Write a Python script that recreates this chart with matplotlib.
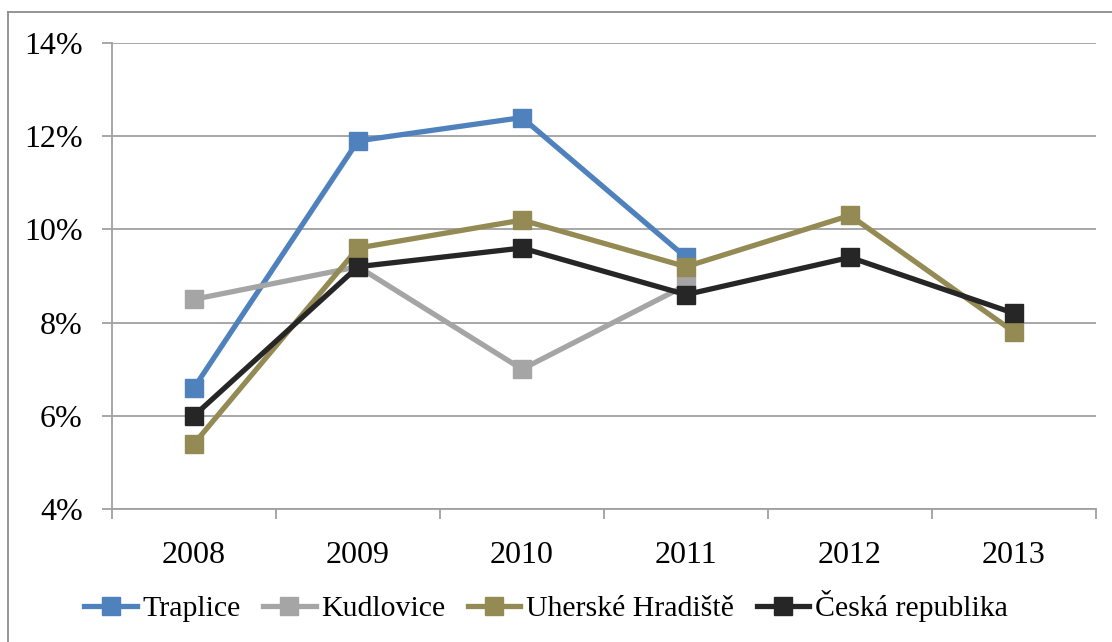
import numpy as np
import matplotlib
matplotlib.use("Agg")
import matplotlib.pyplot as plt
from matplotlib.lines import Line2D
from matplotlib.ticker import FuncFormatter

plt.rcParams['font.family'] = ['Liberation Serif', 'DejaVu Serif']

years = ['2008', '2009', '2010', '2011', '2012', '2013']
traplice = [6.6, 11.9, 12.4, 9.4, np.nan, np.nan]
kudlovice = [8.5, 9.2, 7.0, 8.8, np.nan, np.nan]
uherske = [5.4, 9.6, 10.2, 9.2, 10.3, 7.8]
ceska = [6.0, 9.2, 9.6, 8.6, 9.4, 8.2]

series = [
    ('Traplice', traplice, '#4F81BD'),
    ('Kudlovice', kudlovice, '#A5A5A5'),
    ('Uherské Hradiště', uherske, '#948A54'),
    ('Česká republika', ceska, '#262626'),
]

fig = plt.figure(figsize=(11.12, 6.42), dpi=100)
ax = fig.add_axes([112 / 1112, 1 - 509 / 642, 984 / 1112, 466 / 642])

x = np.arange(len(years))
for name, vals, col in series:
    ax.plot(x, vals, color=col, lw=3.8, marker='s', ms=13.5,
            mec=col, mfc=col, label=name, solid_joinstyle='miter')

grid_col = '#A0A0A0'
ax.set_xlim(-0.5, len(years) - 0.5)
ax.set_ylim(4, 14)
ax.set_yticks(np.arange(4, 15, 2))
ax.yaxis.set_major_formatter(FuncFormatter(lambda v, p: f'{v:.0f}%'))
ax.yaxis.grid(True, color=grid_col, lw=1.3)
ax.set_axisbelow(True)

ax.set_xticks(x)
ax.set_xticklabels(years)
ax.set_xticks(np.arange(-0.5, len(years)), minor=True)
ax.tick_params(axis='x', which='major', length=0, pad=23, labelsize=23)
ax.tick_params(axis='x', which='minor', length=7, width=1.3, color=grid_col, direction='out')
ax.tick_params(axis='y', length=7, width=1.3, color=grid_col, pad=14, labelsize=23)

for s in ['top', 'right']:
    ax.spines[s].set_visible(False)
for s in ['left', 'bottom']:
    ax.spines[s].set_color(grid_col)
    ax.spines[s].set_linewidth(1.3)

ax.legend(loc='center', bbox_to_anchor=(546 / 1112, 1 - 606 / 642), bbox_transform=fig.transFigure,
          ncol=4, frameon=False, fontsize=21.5, handlelength=1.75, handletextpad=0.2,
          columnspacing=0.75, markerscale=1.0)

# chart frame (left and top edges)
fig.add_artist(Line2D([8 / 1112, 8 / 1112], [0, 1 - 12 / 642], color='#8C8C8C', lw=1.3))
fig.add_artist(Line2D([8 / 1112, 1], [1 - 12 / 642, 1 - 12 / 642], color='#8C8C8C', lw=1.3))

fig.savefig('out.png', dpi=100)
